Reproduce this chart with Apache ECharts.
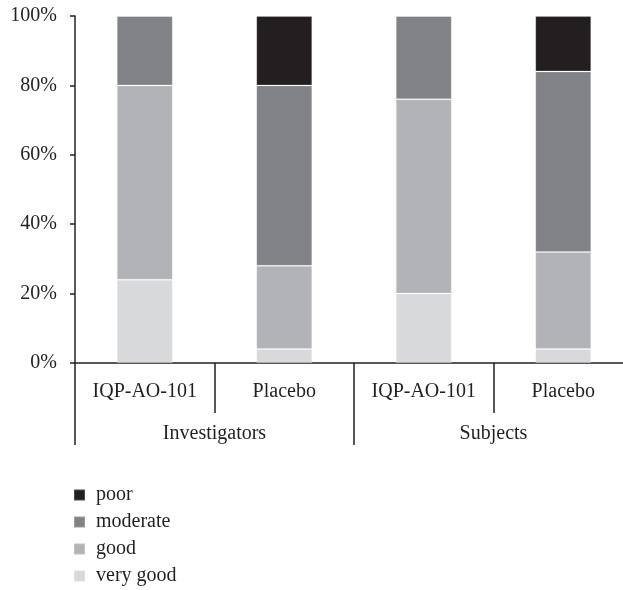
<!DOCTYPE html>
<html>
<head>
<meta charset="utf-8">
<script src="https://cdn.jsdelivr.net/npm/echarts@6/dist/echarts.min.js"></script>
<style>html,body{margin:0;padding:0;background:#fff;overflow:hidden;width:623px;height:590px;}#c{width:640px;height:590px;}</style>
</head>
<body>
<div id="c"></div>
<script>
const categories = ['IQP-AO-101', 'Placebo', 'IQP-AO-101', 'Placebo'];
const groups = ['Investigators', 'Subjects'];
const veryGood = [24, 4, 20, 4];
const good = [56, 24, 56, 28];
const moderate = [20, 52, 24, 52];
const poor = [0, 20, 0, 16];
const yTicks = [0, 20, 40, 60, 80, 100];

const FONT = 'Liberation Serif';
const TXT = '#231f20';
const FS = 20;
const chart = echarts.init(document.getElementById('c'));
function s(name, data, color) {
  return { name, type: 'bar', stack: 'all', data, barWidth: 56, xAxisIndex: 0,
    itemStyle: { color, borderColor: 'rgba(255,255,255,0.2)', borderWidth: 1 } };
}
chart.setOption({
  animation: false,
  textStyle: { fontFamily: FONT, color: TXT },
  grid: { left: 75, right: 7, top: 16, bottom: 227 },
  legend: {
    orient: 'vertical', left: 73, top: 485, height: 120, padding: 0, icon: 'rect', itemWidth: 11, itemHeight: 11,
    itemGap: 7, data: ['poor', 'moderate', 'good', 'very good'],
    textStyle: { fontFamily: FONT, fontSize: FS, lineHeight: 20, color: TXT, padding: [0, 0, 0, 6] }
  },
  xAxis: [{
    type: 'category', data: categories, position: 'bottom',
    axisLine: { lineStyle: { color: TXT, width: 1.5 } },
    axisTick: { show: true, interval: 0, length: 50, lineStyle: { color: TXT, width: 1.5 } },
    axisLabel: { interval: 0, margin: 19, fontFamily: FONT, fontSize: FS, color: TXT }
  }, {
    type: 'category', data: groups, position: 'bottom',
    axisLine: { show: false },
    axisTick: { show: true, interval: 0, length: 82, lineStyle: { color: TXT, width: 1.5 } },
    axisLabel: { interval: 0, margin: 61, fontFamily: FONT, fontSize: FS, color: TXT }
  }],
  yAxis: {
    type: 'value', min: 0, max: 100, interval: 20,
    axisLine: { show: true, lineStyle: { color: TXT, width: 1.5 } },
    axisTick: { show: true, length: 5, lineStyle: { color: TXT, width: 1.5 } },
    splitLine: { show: false },
    axisLabel: { margin: 18, fontFamily: FONT, fontSize: FS, color: TXT,
      formatter: v => yTicks.includes(v) ? v + '%' : '' }
  },
  series: [
    s('very good', veryGood, '#d8d9db'),
    s('good', good, '#b2b3b6'),
    s('moderate', moderate, '#808285'),
    s('poor', poor, '#231f20')
  ]
});
</script>
</body>
</html>
